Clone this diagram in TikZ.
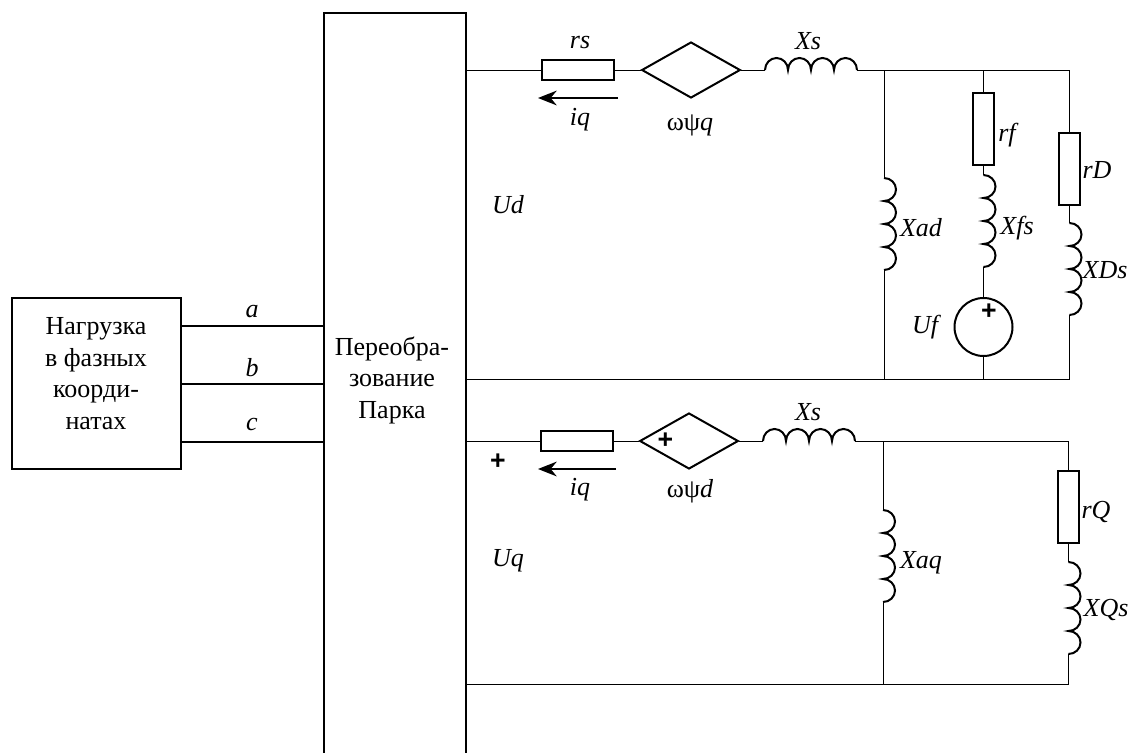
\documentclass[tikz,border=0pt]{standalone}
\usepackage{fontspec}
\setmainfont{Liberation Serif}
\setsansfont{Liberation Sans}
\usepackage{tikz}
\usetikzlibrary{shapes.geometric,arrows.meta}

\newcommand{\hhump}{arc[start angle = 180, end angle = 0, x radius = 8.625pt, y radius = 9pt]}
\newcommand{\vhump}{arc[start angle = 90, end angle = -90, x radius = 9pt, y radius = 8.625pt]}

\tikzset{
	lbl/.style = {font = \fontsize{19.5}{23}\selectfont\itshape, inner sep = 0pt},
	txt/.style = {font = \fontsize{19.5}{23.6}\selectfont, align = center, inner sep = 0pt},
	wire/.style = {draw = black, line width = 0.75pt},
	bus/.style = {draw = black, line width = 1.5pt},
	resh/.style = {draw = black, line width = 1.5pt, rectangle, minimum width = 54pt, minimum height = 15pt, inner sep = 0pt},
	resv/.style = {draw = black, line width = 1.5pt, rectangle, minimum width = 15.5pt, minimum height = 54pt, inner sep = 0pt},
	src/.style = {draw = black, line width = 1.5pt, diamond, aspect = 1.75, minimum width = 74pt, minimum height = 42pt, inner sep = 0pt},
	coil/.style = {draw = black, line width = 1.5pt},
	flow/.style = {draw = black, line width = 2pt, -{Stealth[length = 14pt, width = 11pt, inset = 4.5pt]}},
	plus/.style = {font = \fontsize{20}{20}\sffamily\bfseries\selectfont, inner sep = 0pt}
}

\begin{document}
\begin{tikzpicture}[x = 0.75pt, y = -0.75pt]
	\path[use as bounding box, clip] (0,0) rectangle (1132,753);

	\node[bus, rectangle, minimum width = 126.75pt, minimum height = 128.25pt, inner sep = 0pt] (load) at (96.5,383.5) {};
	\node[bus, rectangle, minimum width = 106.5pt, minimum height = 585pt, inner sep = 0pt] (park) at (395,403) {};
	\node[txt] (loadtxt) at (96,373.5) {Нагрузка\\в фазных\\коорди-\\натах};
	\node[txt] (parktxt) at (392,380) {Переобра-\\зование\\Парка};

%% phase lines
	\coordinate (ain) at (load.east |- 0,326);
	\coordinate (bin) at (load.east |- 0,384);
	\coordinate (cin) at (load.east |- 0,442);
	\draw[bus] (ain) -- (park.west |- ain);
	\draw[bus] (bin) -- (park.west |- bin);
	\draw[bus] (cin) -- (park.west |- cin);
	\node[lbl] (alab) at (252,312) {a};
	\node[lbl] (blab) at (252,368) {b};
	\node[lbl] (clab) at (252,424) {c};

%% upper circuit
	\coordinate (dl) at (park.east |- 0,70);
	\coordinate (dbl) at (park.east |- 0,379);
	\node[resh] (rs) at (578,70) {};
	\node[src] (wq) at (691,70) {};
	\coordinate (xsa) at (765,70);
	\coordinate (xsb) at (857,70);
	\coordinate (adtop) at (884,70);
	\coordinate (adbot) at (884,379);
	\coordinate (ada) at (884,178);
	\coordinate (adb) at (884,270);
	\coordinate (ftop) at (983.5,70);
	\coordinate (fbot) at (983.5,379);
	\node[resv] (rf) at (983.5,128.5) {};
	\coordinate (fsa) at (983.5,175);
	\coordinate (fsb) at (983.5,267);
	\node[circle, draw = black, line width = 1.5pt, minimum size = 43.5pt, inner sep = 0pt] (uf) at (983.5,327) {};
	\coordinate (rtop) at (1069.5,70);
	\coordinate (rbot) at (1069.5,379);
	\node[resv] (rd) at (1069.5,169) {};
	\coordinate (dsa) at (1069.5,223);
	\coordinate (dsb) at (1069.5,315);

	\draw[wire] (dl) -- (rs.west);
	\draw[wire] (rs.east) -- (wq.west);
	\draw[wire] (wq.east) -- (xsa);
	\draw[coil] (xsa) \hhump \hhump \hhump \hhump;
	\draw[wire] (xsb) -- (rtop) -- (rd.north);
	\draw[wire] (dbl) -- (rbot) -- (dsb);
	\draw[coil] (dsa) \vhump \vhump \vhump \vhump;
	\draw[wire] (rd.south) -- (dsa);
	\draw[wire] (adtop) -- (ada);
	\draw[coil] (ada) \vhump \vhump \vhump \vhump;
	\draw[wire] (adb) -- (adbot);
	\draw[wire] (ftop) -- (rf.north);
	\draw[wire] (rf.south) -- (fsa);
	\draw[coil] (fsa) \vhump \vhump \vhump \vhump;
	\draw[wire] (fsb) -- (uf.north);
	\draw[wire] (uf.south) -- (fbot);

	\coordinate (iqa) at (618,98);
	\coordinate (iqb) at (538,98);
	\draw[flow] (iqa) -- (iqb);

	\node[lbl] (rslab) at (580,43) {rs};
	\node[lbl] (iqlab) at (580,120) {iq};
	\node[lbl] (wqlab) at (690,125) {\normalfont ωψ\itshape q};
	\node[lbl] (xslab) at (808,41) {Xs};
	\node[lbl] (udlab) at (508,205) {Ud};
	\node[lbl] (adlab) at (921,228) {Xad};
	\node[lbl] (rflab) at (1007,135) {rf};
	\node[lbl] (fslab) at (1017,228) {Xfs};
	\node[lbl] (uflab) at (925,327) {Uf};
	\node[lbl] (rdlab) at (1097,170) {rD};
	\node[lbl] (dslab) at (1105,270) {XDs};
	\node[plus] (ufplus) at (989,312) {+};

%% lower circuit
	\coordinate (ql) at (park.east |- 0,441);
	\coordinate (qbl) at (park.east |- 0,684);
	\node[resh] (rq) at (577,441) {};
	\node[src] (wd) at (689,441) {};
	\coordinate (xqa) at (763,441);
	\coordinate (xqb) at (855,441);
	\coordinate (aqtop) at (883,441);
	\coordinate (aqbot) at (883,684);
	\coordinate (aqa) at (883,510);
	\coordinate (aqb) at (883,602);
	\coordinate (qtop) at (1068.5,441);
	\coordinate (qbot) at (1068.5,684);
	\node[resv] (rqq) at (1068.5,506.5) {};
	\coordinate (qsa) at (1068.5,562);
	\coordinate (qsb) at (1068.5,654);

	\draw[wire] (ql) -- (rq.west);
	\draw[wire] (rq.east) -- (wd.west);
	\draw[wire] (wd.east) -- (xqa);
	\draw[coil] (xqa) \hhump \hhump \hhump \hhump;
	\draw[wire] (xqb) -- (qtop) -- (rqq.north);
	\draw[wire] (rqq.south) -- (qsa);
	\draw[coil] (qsa) \vhump \vhump \vhump \vhump;
	\draw[wire] (qsb) -- (qbot) -- (qbl);
	\draw[wire] (aqtop) -- (aqa);
	\draw[coil] (aqa) \vhump \vhump \vhump \vhump;
	\draw[wire] (aqb) -- (aqbot);

	\coordinate (ida) at (616,469);
	\coordinate (idb) at (538,469);
	\draw[flow] (ida) -- (idb);

	\node[lbl] (iqlabb) at (580,490) {iq};
	\node[lbl] (wdlab) at (690,491) {\normalfont ωψ\itshape d};
	\node[lbl] (xsblab) at (808,412) {Xs};
	\node[lbl] (uqlab) at (508,561) {Uq};
	\node[lbl] (aqlab) at (921,563) {Xaq};
	\node[lbl] (rqlab) at (1096,512) {rQ};
	\node[lbl] (qslab) at (1106,610) {XQs};
	\node[plus] (wdplus) at (665.5,441) {+};
	\node[plus] (uqplus) at (498,462) {+};
\end{tikzpicture}
\end{document}
